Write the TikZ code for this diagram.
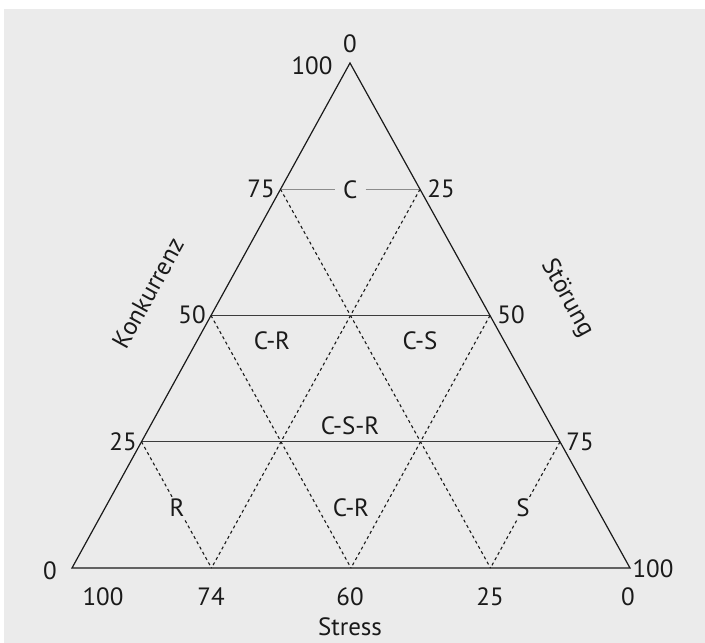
\documentclass[tikz,border=0pt]{standalone}
\usepackage{fontspec}
\setmainfont{PT Sans}
\usetikzlibrary{calc}
\definecolor{bg}{HTML}{EBEBEB}
\definecolor{ink}{HTML}{1A1A1A}
\begin{document}
\begin{tikzpicture}[x=1pt,y=-1pt,
  lbl/.style={font=\fontsize{25}{27}\selectfont, text=ink, inner sep=0.5pt},
  region/.style={lbl, fill=bg, inner sep=2pt},
  side/.style={draw=ink, line width=1.2pt},
  level/.style={draw=ink!85, line width=1pt},
  toplevel/.style={draw=black!45, line width=1pt},
  grid/.style={draw=ink, line width=1.1pt, dash pattern=on 3pt off 3pt}]
\useasboundingbox (0,0) rectangle (705,643);
\fill[white] (0,0) rectangle (705,643);
\fill[bg] (4,9) rectangle (705,643);
% corners
\coordinate (A) at (350,63);
\coordinate (BL) at (72,568);
\coordinate (BR) at (630,568);
% side points
\coordinate (L75) at ($(BL)!0.75!(A)$);
\coordinate (L50) at ($(BL)!0.5!(A)$);
\coordinate (L25) at ($(BL)!0.25!(A)$);
\coordinate (R75) at ($(BR)!0.75!(A)$);
\coordinate (R50) at ($(BR)!0.5!(A)$);
\coordinate (R25) at ($(BR)!0.25!(A)$);
\coordinate (B1) at ($(BL)!0.25!(BR)$);
\coordinate (B2) at ($(BL)!0.5!(BR)$);
\coordinate (B3) at ($(BL)!0.75!(BR)$);
% dashed grid
\draw[grid] (L75) -- (B3);
\draw[grid] (R75) -- (B1);
\draw[grid] (L50) -- (B2);
\draw[grid] (R50) -- (B2);
\draw[grid] (L25) -- (B1);
\draw[grid] (R25) -- (B3);
% level lines
\draw[level] (L50) -- (R50);
\draw[level] (L25) -- (R25);
\node[lbl, fill=bg, inner xsep=8pt] (c) at ($(L75)!0.5!(R75)$) {C};
\draw[toplevel] (L75) -- (c) -- (R75);
% triangle
\draw[side, line join=miter] (A) -- (BL) -- (BR) -- cycle;
% region labels
\node[region] (cr1) at (272,341) {C-R};
\node[region] (cs) at (420,341) {C-S};
\node[region] (csr) at (350,426) {C-S-R};
\node[region] (r) at (177,508) {R};
\node[region] (cr2) at (351,508) {C-R};
\node[region] (s) at (523,508) {S};
% tick labels
\node[lbl] (t0) at (350,44) {0};
\node[lbl] (t100) at (312,66) {100};
\node[lbl] (t75l) at (261,189) {75};
\node[lbl] (t25r) at (441,189) {25};
\node[lbl] (t50l) at (192,315) {50};
\node[lbl] (t50r) at (511,315) {50};
\node[lbl] (t25l) at (123,442) {25};
\node[lbl] (t75r) at (580,442) {75};
\node[lbl] (b0l) at (50,571) {0};
\node[lbl] (b100r) at (653,569) {100};
\node[lbl] (x100) at (103,597) {100};
\node[lbl] (x74) at (211,597) {74};
\node[lbl] (x60) at (350,597) {60};
\node[lbl] (x25) at (490,597) {25};
\node[lbl] (x0) at (628,597) {0};
\node[lbl] (stress) at (350,627) {Stress};
\node[lbl, rotate=61] (konk) at (148,293) {Konkurrenz};
\node[lbl, rotate=-61] (stoer) at (567,298) {Störung};
\end{tikzpicture}
\end{document}
